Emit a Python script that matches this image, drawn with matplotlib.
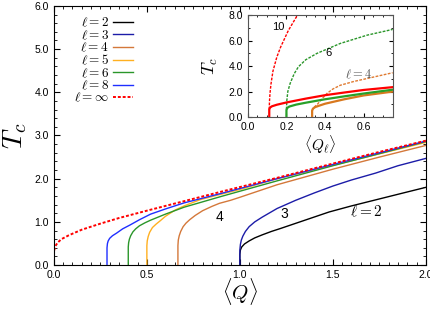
import matplotlib.pyplot as plt
from matplotlib.ticker import MultipleLocator

plt.rcParams['font.family'] = ['Liberation Sans', 'DejaVu Sans']
plt.rcParams['mathtext.fontset'] = 'cm'

# main panel: critical temperature vs <Q>
q2 = [1.0, 1.0, 1.003, 1.01, 1.025, 1.05, 1.08, 1.12, 1.17, 1.22, 1.35, 1.48, 1.6, 1.73, 1.86, 2.0]
t2 = [0.0, 0.25, 0.35, 0.42, 0.49, 0.56, 0.63, 0.70, 0.78, 0.85, 1.04, 1.23, 1.37, 1.51, 1.65, 1.80]
q3 = [1.0, 1.0, 1.003, 1.008, 1.016, 1.03, 1.05, 1.08, 1.12, 1.2, 1.3, 1.4, 1.5, 1.6, 1.73, 1.85, 2.0]
t3 = [0.0, 0.35, 0.48, 0.58, 0.67, 0.78, 0.89, 1.0, 1.11, 1.31, 1.50, 1.67, 1.83, 1.97, 2.13, 2.30, 2.47]
q4 = [0.667, 0.667, 0.669, 0.674, 0.682, 0.695, 0.71, 0.73, 0.76, 0.8, 0.85, 0.89, 0.95, 1.0,
      1.2, 1.5, 1.75, 2.0]
t4 = [0.0, 0.45, 0.58, 0.68, 0.78, 0.89, 0.97, 1.05, 1.15, 1.26, 1.36, 1.43, 1.5, 1.57,
      1.86, 2.22, 2.5, 2.77]
q5 = [0.5, 0.5, 0.502, 0.507, 0.515, 0.53, 0.55, 0.57, 0.6, 0.65, 0.7, 0.79, 0.88, 1.0,
      1.2, 1.5, 2.0]
t5 = [0.0, 0.45, 0.56, 0.66, 0.76, 0.87, 0.95, 1.02, 1.13, 1.27, 1.37, 1.52, 1.62, 1.75,
      2.0, 2.31, 2.84]
q6 = [0.4, 0.4, 0.402, 0.406, 0.413, 0.425, 0.44, 0.46, 0.49, 0.52, 0.56, 0.6, 0.7, 0.9,
      1.2, 1.5, 2.0]
t6 = [0.0, 0.42, 0.52, 0.6, 0.68, 0.77, 0.84, 0.91, 0.98, 1.04, 1.11, 1.18, 1.34, 1.59,
      1.95, 2.3, 2.86]
q8 = [0.2857, 0.2857, 0.288, 0.292, 0.3, 0.315, 0.337, 0.37, 0.41, 0.46, 0.52, 0.6, 0.7,
      0.9, 1.2, 1.5, 2.0]
t8 = [0.0, 0.4, 0.5, 0.56, 0.62, 0.68, 0.74, 0.84, 0.93, 1.05, 1.18, 1.3, 1.44,
      1.66, 2.0, 2.33, 2.87]
qinf = [0.0, 0.0, 0.002, 0.008, 0.02, 0.04, 0.08, 0.15, 0.25, 0.35, 0.5, 0.7, 0.9, 1.2,
        1.5, 1.75, 2.0]
tinf = [0.0, 0.25, 0.35, 0.44, 0.52, 0.6, 0.69, 0.82, 0.96, 1.09, 1.26, 1.48, 1.70, 2.02,
        2.35, 2.62, 2.88]

# inset: <Q_l>, solid and dashed branches for l = 10, 6, 4
iq10s = [0.111, 0.111, 0.115, 0.125, 0.15, 0.2, 0.3, 0.4, 0.5, 0.6, 0.75]
it10s = [0.0, 0.6, 0.75, 0.85, 0.97, 1.15, 1.45, 1.72, 1.93, 2.13, 2.35]
iq10d = [0.111, 0.112, 0.115, 0.12, 0.13, 0.15, 0.17, 0.21, 0.257]
it10d = [0.6, 1.2, 1.9, 2.6, 3.6, 4.7, 5.5, 6.8, 8.0]
iq6s = [0.2, 0.2, 0.204, 0.215, 0.25, 0.3, 0.4, 0.5, 0.6, 0.75]
it6s = [0.0, 0.55, 0.72, 0.83, 0.98, 1.13, 1.4, 1.63, 1.85, 2.15]
iq6d = [0.2, 0.202, 0.207, 0.219, 0.24, 0.262, 0.3, 0.358, 0.42, 0.479, 0.618, 0.75]
it6d = [0.6, 1.3, 2.0, 2.64, 3.4, 3.95, 4.5, 5.0, 5.4, 5.78, 6.43, 6.88]
iq4s = [0.333, 0.333, 0.337, 0.348, 0.37, 0.4, 0.5, 0.6, 0.75]
it4s = [0.0, 0.5, 0.66, 0.78, 0.9, 1.05, 1.4, 1.7, 2.0]
iq4d = [0.333, 0.337, 0.345, 0.36, 0.385, 0.41, 0.44, 0.479, 0.55, 0.618, 0.75]
it4d = [0.5, 0.66, 0.8, 1.0, 1.45, 1.86, 2.2, 2.5, 2.8, 3.03, 3.48]

fig = plt.figure(figsize=(4.31, 3.09), dpi=100)
ax = fig.add_axes([0.125, 0.142, 0.863, 0.839])

ax.plot(q2, t2, color='black', lw=1.0, label=r'$\ell=2$')
ax.plot(q3, t3, color='#1c1ca8', lw=1.0, label=r'$\ell=3$')
ax.plot(q4, t4, color='#d4783a', lw=1.0, label=r'$\ell=4$')
ax.plot(q5, t5, color='#ffb020', lw=1.0, label=r'$\ell=5$')
ax.plot(q6, t6, color='#2a962a', lw=1.0, label=r'$\ell=6$')
ax.plot(q8, t8, color='#1f2fff', lw=1.0, label=r'$\ell=8$')
ax.plot(qinf, tinf, color='red', lw=1.4, ls=(0, (1.5, 1)), label=r'$\ell=\infty$')

ax.set_xlim(0, 2.0)
ax.set_ylim(0, 6.0)
ax.xaxis.set_major_locator(MultipleLocator(0.5))
ax.xaxis.set_minor_locator(MultipleLocator(0.05))
ax.yaxis.set_major_locator(MultipleLocator(1.0))
ax.yaxis.set_minor_locator(MultipleLocator(0.2))
ax.xaxis.set_major_formatter('{x:.1f}')
ax.yaxis.set_major_formatter('{x:.1f}')
ax.tick_params(which='both', direction='in', top=True, right=True, labelsize=7.5)
ax.tick_params(which='major', length=4)
ax.tick_params(which='minor', length=2)
ax.set_xlabel(r'$\langle Q \rangle$', fontsize=15, labelpad=-3)
ax.set_ylabel(r'$T_c$', fontsize=20, labelpad=4)

ax.text(0.892, 1.11, '4', fontsize=10, ha='center', va='center')
ax.text(1.237, 1.18, '3', fontsize=10, ha='center', va='center')
ax.text(1.68, 1.23, r'$\ell=2$', fontsize=11, ha='center', va='center')

leg = ax.legend(loc='upper left', bbox_to_anchor=(0.04, 0.98), frameon=False,
                markerfirst=False, fontsize=9.5, handlelength=1.5,
                labelspacing=-0.08, handletextpad=0.3, borderaxespad=0)

# inset
ins = fig.add_axes([0.575, 0.621, 0.336, 0.330])
ins.plot(iq10d, it10d, color='red', lw=1.0, ls=(0, (2, 1)))
ins.plot(iq6d, it6d, color='#2a962a', lw=1.0, ls=(0, (2, 1)))
ins.plot(iq4d, it4d, color='#e07a30', lw=1.0, ls=(0, (2, 1)))
ins.plot(iq4s, it4s, color='#d8781e', lw=1.6)
ins.plot(iq6s, it6s, color='#28a028', lw=1.6)
ins.plot(iq10s, it10s, color='red', lw=1.6)
ins.set_xlim(0, 0.75)
ins.set_ylim(0, 8.0)
ins.xaxis.set_major_locator(MultipleLocator(0.2))
ins.xaxis.set_minor_locator(MultipleLocator(0.05))
ins.yaxis.set_major_locator(MultipleLocator(2.0))
ins.yaxis.set_minor_locator(MultipleLocator(1.0))
ins.xaxis.set_major_formatter('{x:.1f}')
ins.yaxis.set_major_formatter('{x:.1f}')
ins.tick_params(which='both', direction='in', top=True, right=True, labelsize=7.5)
ins.tick_params(which='major', length=3)
ins.tick_params(which='minor', length=1.5)
for s in ins.spines.values():
    s.set_color('#555555')
ins.set_xlabel(r'$\langle Q_\ell \rangle$', fontsize=11, labelpad=1)
ins.set_ylabel(r'$T_c$', fontsize=13, labelpad=6)
ins.text(0.156, 7.1, '10', fontsize=8, ha='center', va='center')
ins.text(0.417, 5.05, '6', fontsize=8, ha='center', va='center')
ins.text(0.573, 3.3, r'$\ell=4$', fontsize=9, ha='center', va='center', color='#555555')

fig.savefig('out.png', dpi=100)
